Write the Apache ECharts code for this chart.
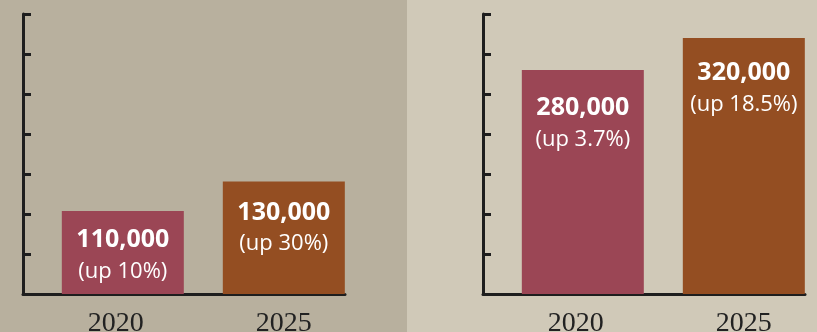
<!DOCTYPE html>
<html>
<head>
<meta charset="utf-8">
<script src="https://cdn.jsdelivr.net/npm/echarts@6/dist/echarts.min.js"></script>
<style>html,body{margin:0;padding:0;}#c{width:817px;height:332px;}</style>
</head>
<body>
<div id="c"></div>
<script>
// ---- data ----
const years = [2020, 2025];
const leftValues = [110000, 130000];
const leftChange = [10, 30];
const rightValues = [280000, 320000];
const rightChange = [3.7, 18.5];

// ---- styling / layout ----
const barColors = ['#9b4655', '#944e22'];
const axisColor = '#1e1e1e';
const labelDistances = [[13, 15], [22, 19]];

const chart = echarts.init(document.getElementById('c'), null, {renderer: 'canvas'});

function xAxisFor(gridIndex) {
  return {
    type: 'value', gridIndex: gridIndex,
    min: 2016.9, max: 2026.9,
    axisLine: {show: true, onZero: false, lineStyle: {color: axisColor, width: 3}},
    axisTick: {show: false},
    splitLine: {show: false},
    axisLabel: {
      customValues: years,
      margin: 16,
      formatter: function (v) { return v === years[0] ? '{a|' + v + '}' : '{b|' + v + '}'; },
      rich: {
        a: {fontFamily: 'Liberation Serif', fontSize: 28, color: '#222', padding: [0, 14, 0, 0]},
        b: {fontFamily: 'Liberation Serif', fontSize: 28, color: '#222'}
      }
    }
  };
}
function yAxisFor(gridIndex, min, max, interval) {
  return {
    type: 'value', gridIndex: gridIndex,
    min: min, max: max, interval: interval,
    axisLine: {show: true, lineStyle: {color: axisColor, width: 3}},
    axisTick: {show: true, inside: true, length: 8, lineStyle: {color: axisColor, width: 3}},
    axisLabel: {show: false},
    splitLine: {show: false}
  };
}
function seriesFor(idx, values, change) {
  return {
    type: 'bar', xAxisIndex: idx, yAxisIndex: idx,
    barWidth: 122,
    data: years.map(function (y, i) {
      return {value: [y, values[i]], label: {distance: labelDistances[idx][i]}};
    }),
    itemStyle: {color: function (p) { return barColors[p.dataIndex]; }},
    label: {
      show: true, position: 'insideTop',
      formatter: function (p) {
        return '{v|' + values[p.dataIndex].toLocaleString('en-US') + '}\n{p|(up ' + change[p.dataIndex] + '%)}';
      },
      rich: {
        v: {fontFamily: 'Open Sans', fontWeight: 'bold', fontSize: 25, lineHeight: 32, color: '#fff'},
        p: {fontFamily: 'Open Sans', fontSize: 22, lineHeight: 31, color: '#fff'}
      }
    }
  };
}

chart.setOption({
  backgroundColor: '#d0c9b8',
  animation: false,
  graphic: [{
    type: 'rect', z: -10, silent: true,
    shape: {x: 0, y: 0, width: 407, height: 332},
    style: {fill: '#b8b09e'}
  }],
  grid: [
    {left: 23, top: 14, width: 322, height: 280, containLabel: false, outerBoundsMode: 'none'},
    {left: 483, top: 14, width: 322, height: 280, containLabel: false, outerBoundsMode: 'none'}
  ],
  xAxis: [xAxisFor(0), xAxisFor(1)],
  yAxis: [yAxisFor(0, 54000, 243000, 27000), yAxisFor(1, 0, 350000, 50000)],
  series: [seriesFor(0, leftValues, leftChange), seriesFor(1, rightValues, rightChange)]
});
</script>
</body>
</html>
